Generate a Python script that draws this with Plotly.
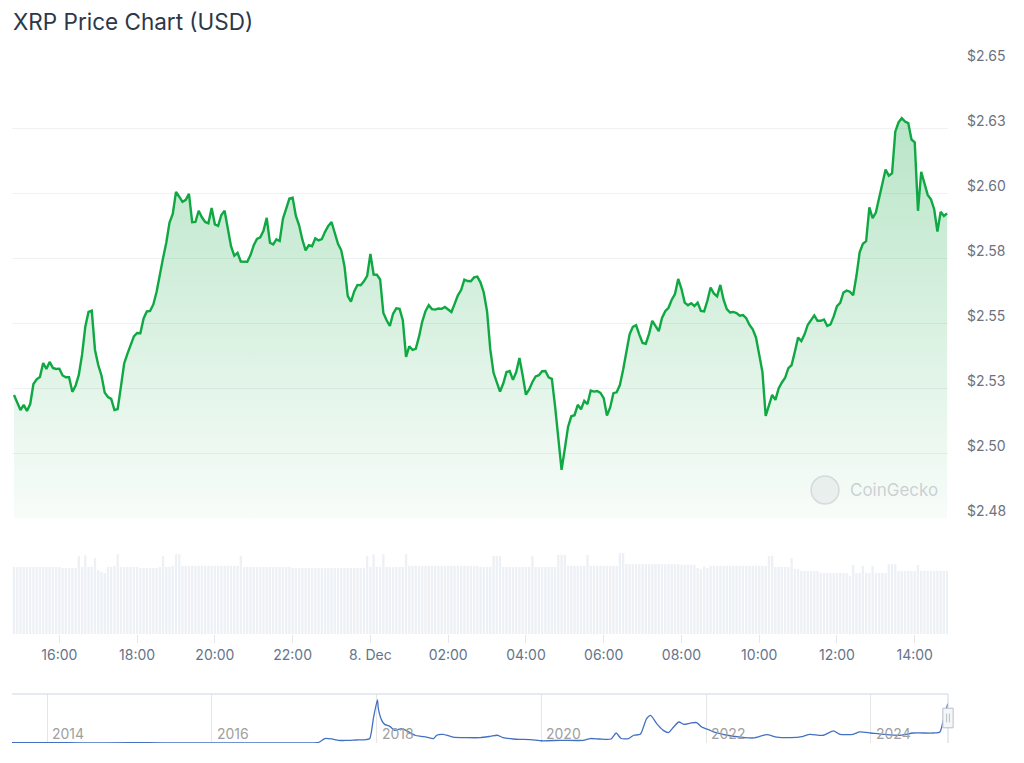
import plotly.graph_objects as go
import pandas as pd

# ---------------- data ----------------
start_time = "2024-12-07 14:50"

price = [
    2.5225, 2.5194, 2.5167, 2.5187, 2.5163, 2.5190, 2.5267, 2.5285, 2.5294, 2.5348,
    2.5325, 2.5352, 2.5329, 2.5325, 2.5326, 2.5300, 2.5293, 2.5293, 2.5237, 2.5260,
    2.5302, 2.5379, 2.5487, 2.5544, 2.5549, 2.5398, 2.5340, 2.5300, 2.5234, 2.5217,
    2.5210, 2.5167, 2.5171, 2.5257, 2.5346, 2.5383, 2.5414, 2.5450, 2.5463, 2.5462,
    2.5519, 2.5546, 2.5548, 2.5573, 2.5621, 2.5694, 2.5751, 2.5810, 2.5888, 2.5921,
    2.6006, 2.5987, 2.5967, 2.5975, 2.5998, 2.5889, 2.5890, 2.5933, 2.5908, 2.5890,
    2.5885, 2.5944, 2.5881, 2.5875, 2.5917, 2.5933, 2.5856, 2.5796, 2.5760, 2.5771,
    2.5738, 2.5737, 2.5737, 2.5763, 2.5801, 2.5825, 2.5831, 2.5856, 2.5906, 2.5810,
    2.5804, 2.5823, 2.5817, 2.5902, 2.5938, 2.5980, 2.5983, 2.5913, 2.5877, 2.5822,
    2.5781, 2.5801, 2.5797, 2.5827, 2.5819, 2.5824, 2.5852, 2.5875, 2.5890, 2.5847,
    2.5806, 2.5781, 2.5720, 2.5606, 2.5584, 2.5623, 2.5648, 2.5647, 2.5662, 2.5683,
    2.5767, 2.5688, 2.5687, 2.5669, 2.5540, 2.5512, 2.5490, 2.5537, 2.5558, 2.5556,
    2.5512, 2.5371, 2.5412, 2.5398, 2.5402, 2.5449, 2.5507, 2.5547, 2.5570, 2.5555,
    2.5553, 2.5557, 2.5556, 2.5563, 2.5554, 2.5544, 2.5575, 2.5608, 2.5628, 2.5668,
    2.5663, 2.5662, 2.5677, 2.5680, 2.5657, 2.5618, 2.5547, 2.5400, 2.5310, 2.5272,
    2.5238, 2.5269, 2.5313, 2.5317, 2.5283, 2.5313, 2.5367, 2.5300, 2.5226, 2.5246,
    2.5275, 2.5296, 2.5301, 2.5316, 2.5317, 2.5293, 2.5287, 2.5181, 2.5051, 2.4937,
    2.5018, 2.5102, 2.5143, 2.5147, 2.5187, 2.5170, 2.5202, 2.5190, 2.5242, 2.5238,
    2.5240, 2.5233, 2.5213, 2.5146, 2.5177, 2.5232, 2.5235, 2.5263, 2.5322, 2.5390,
    2.5458, 2.5487, 2.5493, 2.5457, 2.5425, 2.5422, 2.5460, 2.5510, 2.5492, 2.5470,
    2.5521, 2.5547, 2.5560, 2.5591, 2.5613, 2.5671, 2.5633, 2.5580, 2.5570, 2.5578,
    2.5567, 2.5580, 2.5548, 2.5546, 2.5587, 2.5638, 2.5615, 2.5604, 2.5648, 2.5591,
    2.5555, 2.5542, 2.5544, 2.5540, 2.5530, 2.5532, 2.5520, 2.5494, 2.5477, 2.5446,
    2.5380, 2.5313, 2.5144, 2.5187, 2.5225, 2.5206, 2.5250, 2.5273, 2.5291, 2.5328,
    2.5340, 2.5391, 2.5446, 2.5432, 2.5458, 2.5495, 2.5511, 2.5531, 2.5510, 2.5510,
    2.5515, 2.5490, 2.5496, 2.5527, 2.5566, 2.5579, 2.5619, 2.5626, 2.5622, 2.5608,
    2.5682, 2.5773, 2.5806, 2.5816, 2.5946, 2.5905, 2.5926, 2.5983, 2.6037, 2.6092,
    2.6068, 2.6077, 2.6237, 2.6273, 2.6289, 2.6276, 2.6270, 2.6207, 2.6196, 2.5933,
    2.6083, 2.6042, 2.5994, 2.5977, 2.5939, 2.5853, 2.5929, 2.5913, 2.5923,
]

# 24h rolling volume, billions USD
volume_bn = [
    12.2, 12.2, 12.2, 12.2, 12.2, 12.2, 12.2, 12.2, 12.2, 12.2,
    12.2, 12.2, 12.2, 12.2, 12.2, 12.0, 12.0, 12.0, 12.0, 12.0,
    14.2, 12.2, 14.3, 12.2, 12.2, 13.8, 11.6, 11.3, 11.1, 12.2,
    12.2, 12.4, 14.5, 12.2, 12.2, 12.2, 12.2, 12.2, 12.2, 12.0,
    12.0, 12.0, 12.0, 12.0, 12.0, 12.2, 14.2, 12.2, 12.2, 12.4,
    14.5, 14.5, 12.4, 12.4, 12.4, 12.4, 12.4, 12.4, 12.4, 12.4,
    12.4, 12.4, 12.4, 12.4, 12.4, 12.4, 12.4, 12.4, 12.4, 12.4,
    14.2, 12.2, 12.2, 12.2, 12.2, 12.2, 12.2, 12.2, 12.2, 12.2,
    12.2, 12.2, 12.2, 12.2, 12.2, 12.2, 12.0, 12.0, 12.0, 12.0,
    12.0, 12.0, 12.0, 12.0, 12.0, 12.0, 12.0, 12.0, 12.0, 12.0,
    12.0, 12.0, 12.0, 12.0, 12.0, 12.0, 12.0, 12.0, 12.0, 14.2,
    12.2, 14.5, 12.2, 12.2, 14.5, 12.2, 12.2, 12.2, 12.2, 12.2,
    12.2, 14.5, 12.4, 12.4, 12.4, 12.4, 12.4, 12.4, 12.4, 12.4,
    12.4, 12.4, 12.4, 12.4, 12.4, 12.4, 12.4, 12.4, 12.4, 12.4,
    12.4, 12.4, 12.4, 12.4, 12.2, 12.2, 12.2, 12.2, 14.2, 14.2,
    14.2, 12.2, 12.2, 12.2, 12.2, 12.2, 12.2, 12.2, 12.2, 12.2,
    14.2, 12.2, 12.2, 12.2, 12.2, 12.2, 12.2, 12.2, 14.4, 14.4,
    14.4, 12.4, 12.4, 12.4, 12.4, 12.4, 12.4, 14.4, 12.4, 12.4,
    12.4, 12.4, 12.4, 12.4, 12.4, 12.4, 12.4, 14.7, 14.7, 12.7,
    12.7, 12.7, 12.7, 12.7, 12.7, 12.7, 12.7, 12.7, 12.7, 12.7,
    12.7, 12.7, 12.7, 12.7, 12.7, 12.7, 12.6, 12.6, 12.6, 12.6,
    12.6, 12.0, 11.8, 12.3, 12.0, 12.4, 12.4, 12.4, 12.4, 12.4,
    12.4, 12.4, 12.4, 12.4, 12.4, 12.4, 12.4, 12.4, 12.4, 12.4,
    12.4, 12.4, 12.4, 14.2, 14.2, 12.2, 12.2, 12.2, 12.2, 12.2,
    13.8, 11.8, 11.8, 11.45, 11.45, 11.45, 11.45, 11.45, 11.45, 11.1,
    11.1, 11.1, 11.1, 11.1, 11.1, 11.1, 11.1, 11.1, 10.6, 12.6,
    11.1, 11.1, 12.4, 11.1, 11.1, 12.4, 11.1, 11.1, 11.1, 11.1,
    12.7, 12.7, 12.7, 11.45, 11.45, 11.45, 11.45, 11.45, 11.45, 12.55,
    11.5, 11.5, 11.5, 11.5, 11.5, 11.5, 11.5, 11.5, 11.5,
]

price_ticks = [2.475, 2.5, 2.525, 2.55, 2.575, 2.6, 2.625, 2.65]
price_tick_labels = ["$2.48", "$2.50", "$2.53", "$2.55", "$2.58", "$2.60", "$2.63", "$2.65"]

time_ticks = ["2024-12-07 16:00", "2024-12-07 18:00", "2024-12-07 20:00", "2024-12-07 22:00",
              "2024-12-08 00:00", "2024-12-08 02:00", "2024-12-08 04:00", "2024-12-08 06:00",
              "2024-12-08 08:00", "2024-12-08 10:00", "2024-12-08 12:00", "2024-12-08 14:00"]
time_tick_labels = ["16:00", "18:00", "20:00", "22:00", "8. Dec", "02:00", "04:00",
                    "06:00", "08:00", "10:00", "12:00", "14:00"]

nav_dates = [
    "2013-07-28", "2013-12-20", "2014-01-15", "2014-06-01", "2015-01-01", "2015-06-01",
    "2016-01-01", "2016-06-01", "2017-01-01", "2017-03-25", "2017-04-20", "2017-05-16",
    "2017-06-15", "2017-07-15", "2017-08-15", "2017-10-01", "2017-11-15", "2017-12-01",
    "2017-12-18", "2018-01-04", "2018-01-08", "2018-01-23", "2018-02-05", "2018-02-28",
    "2018-03-21", "2018-04-22", "2018-05-15", "2018-06-20", "2018-07-15", "2018-08-10",
    "2018-09-10", "2018-09-24", "2018-10-22", "2018-12-05", "2019-02-05", "2019-04-05",
    "2019-05-20", "2019-06-20", "2019-07-15", "2019-08-30", "2019-09-28", "2019-11-15",
    "2020-01-05", "2020-03-25", "2020-07-05", "2020-08-05", "2020-09-15", "2020-11-05",
    "2020-11-28", "2020-12-20", "2021-01-22", "2021-02-14", "2021-03-15", "2021-04-12",
    "2021-04-30", "2021-05-27", "2021-06-25", "2021-07-18", "2021-08-10", "2021-09-02",
    "2021-09-25", "2021-10-24", "2021-11-20", "2021-12-12", "2022-01-12", "2022-02-03",
    "2022-04-05", "2022-06-03", "2022-07-31", "2022-09-27", "2022-11-10", "2023-01-08",
    "2023-03-08", "2023-04-05", "2023-06-05", "2023-07-20", "2023-08-18", "2023-10-15",
    "2023-11-13", "2024-01-01", "2024-02-28", "2024-05-12", "2024-07-08", "2024-10-05",
    "2024-11-03", "2024-11-18", "2024-12-08",
]
nav_prices = [
    0.02, 0.025, 0.03, 0.006, 0.02, 0.01,
    0.006, 0.006, 0.006, 0.01, 0.05, 0.30,
    0.27, 0.18, 0.17, 0.20, 0.23, 0.30,
    1.74, 2.90, 2.31, 1.52, 1.25, 1.12,
    0.85, 0.97, 0.81, 0.52, 0.45, 0.40,
    0.30, 0.52, 0.58, 0.40, 0.36, 0.36,
    0.45, 0.52, 0.36, 0.27, 0.25, 0.23,
    0.15, 0.18, 0.18, 0.30, 0.27, 0.27,
    0.67, 0.30, 0.30, 0.52, 0.58, 1.64,
    1.86, 1.30, 0.85, 0.70, 1.07, 1.41,
    1.25, 1.34, 1.37, 1.07, 0.90, 0.74,
    0.52, 0.40, 0.34, 0.56, 0.40, 0.36,
    0.45, 0.58, 0.52, 0.81, 0.58, 0.58,
    0.74, 0.67, 0.58, 0.52, 0.67, 0.67,
    0.74, 1.52, 2.64,
]
year_ticks = ["2014-01-01", "2016-01-01", "2018-01-01", "2020-01-01", "2022-01-01", "2024-01-01"]
year_labels = ["2014", "2016", "2018", "2020", "2022", "2024"]

# ---------------- figure ----------------
times = pd.date_range(start_time, periods=len(price), freq="5min")

W, H = 1024, 763
def px_x(p):
    return p / W
def px_y(p):
    return 1 - p / H

xdom = [px_x(12), px_x(948)]
xrange_main = ["2024-12-07 14:46:55", "2024-12-08 14:51:20"]
FONT = "Inter, Roboto, sans-serif"
label_col = "#64748b"

fig = go.Figure()

fig.add_trace(go.Scatter(
    x=times, y=price, mode="lines",
    line=dict(color="#10a843", width=2.4),
    fill="tozeroy",
    fillgradient=dict(type="vertical", start=2.475, stop=2.63,
                      colorscale=[[0, "rgba(20,168,70,0.03)"], [1, "rgba(20,168,70,0.30)"]]),
    xaxis="x", yaxis="y", hoverinfo="skip", showlegend=False,
))

fig.add_trace(go.Bar(
    x=times, y=volume_bn, marker=dict(color="#edf0f5", line=dict(width=0)),
    xaxis="x2", yaxis="y2", hoverinfo="skip", showlegend=False,
))

fig.add_trace(go.Scatter(
    x=nav_dates, y=nav_prices, mode="lines",
    line=dict(color="#4470c4", width=1.3, shape="spline", smoothing=0.6),
    xaxis="x3", yaxis="y3", hoverinfo="skip", showlegend=False,
))

fig.update_layout(
    width=W, height=H, autosize=False,
    margin=dict(l=0, r=0, t=0, b=0, pad=0),
    paper_bgcolor="white", plot_bgcolor="rgba(0,0,0,0)",
    font=dict(family=FONT, color=label_col),
    bargap=0.28,
    xaxis=dict(domain=xdom, anchor="y", type="date", range=xrange_main, automargin=False,
               showticklabels=False, showgrid=False, zeroline=False, showline=False, ticks=""),
    yaxis=dict(domain=[px_y(518.5), px_y(63.3)], anchor="x", range=[2.475, 2.65], side="right",
               automargin=False,
               tickvals=price_ticks, ticktext=price_tick_labels,
               showgrid=True, gridcolor="#eff1f5", gridwidth=1, zeroline=False, showline=False,
               ticks="", ticklabelstandoff=18, ticklabelshift=-7,
               tickfont=dict(size=14, color="#6b7280", family=FONT)),
    xaxis2=dict(domain=xdom, anchor="y2", type="date", matches="x", automargin=False,
                tickvals=time_ticks, ticktext=time_tick_labels,
                showgrid=False, zeroline=False, showline=False,
                ticks="outside", ticklen=8, tickcolor="#e4e7ec", tickwidth=1,
                tickfont=dict(size=14, color=label_col, family=FONT)),
    yaxis2=dict(domain=[px_y(634), px_y(546)], anchor="x2", range=[0, 16], visible=False,
                automargin=False),
    xaxis3=dict(domain=xdom, anchor="y3", type="date", range=["2013-07-28", "2024-12-09"],
                automargin=False, tickvals=year_ticks, showticklabels=False,
                showgrid=True, gridcolor="#e6e6e6", gridwidth=1, zeroline=False, showline=False,
                ticks=""),
    yaxis3=dict(domain=[px_y(743), px_y(694)], anchor="x3", range=[0, 3.29], visible=False,
                automargin=False),
)

# navigator year labels (placed on the navigator's date scale)
for d, lab in zip(year_ticks, year_labels):
    fig.add_annotation(text=lab, xref="x3", yref="y3 domain", x=d, y=0.2,
                       xanchor="left", yanchor="middle", xshift=3, showarrow=False,
                       font=dict(size=14, color="#a0a0a0", family=FONT))

# title
fig.add_annotation(text="XRP Price Chart (USD)", xref="paper", yref="paper",
                   x=px_x(11), y=px_y(22), xanchor="left", yanchor="middle", showarrow=False,
                   font=dict(size=22.5, color="#2d3748", family=FONT))

# watermark
fig.add_shape(type="circle", xref="paper", yref="paper",
              x0=px_x(811), x1=px_x(839), y0=px_y(504), y1=px_y(476),
              line=dict(color="rgba(190,195,200,0.5)", width=1.5),
              fillcolor="rgba(215,219,224,0.35)")
fig.add_annotation(text="CoinGecko", xref="paper", yref="paper",
                   x=px_x(848), y=px_y(490), xanchor="left", yanchor="middle", showarrow=False,
                   font=dict(size=17, color="rgba(175,180,187,0.6)", family=FONT))

# navigator outline and handle
fig.add_shape(type="line", xref="x3 domain", yref="y3 domain", x0=0, x1=1, y0=1, y1=1,
              line=dict(color="#cdd5e4", width=1))
fig.add_shape(type="line", xref="x3 domain", yref="y3 domain", x0=1, x1=1, y0=0, y1=1,
              line=dict(color="#cdd5e4", width=1))
fig.add_shape(type="rect", xref="x3 domain", yref="y3 domain", x0=0.9945, x1=1.0055,
              y0=0.31, y1=0.71, line=dict(color="#b8bfcb", width=1), fillcolor="#f5f6f8")
for dx in (-0.0015, 0.0015):
    fig.add_shape(type="line", xref="x3 domain", yref="y3 domain", x0=1 + dx, x1=1 + dx,
                  y0=0.42, y1=0.6, line=dict(color="#b8bfcb", width=1))

fig.write_html("out.html")
